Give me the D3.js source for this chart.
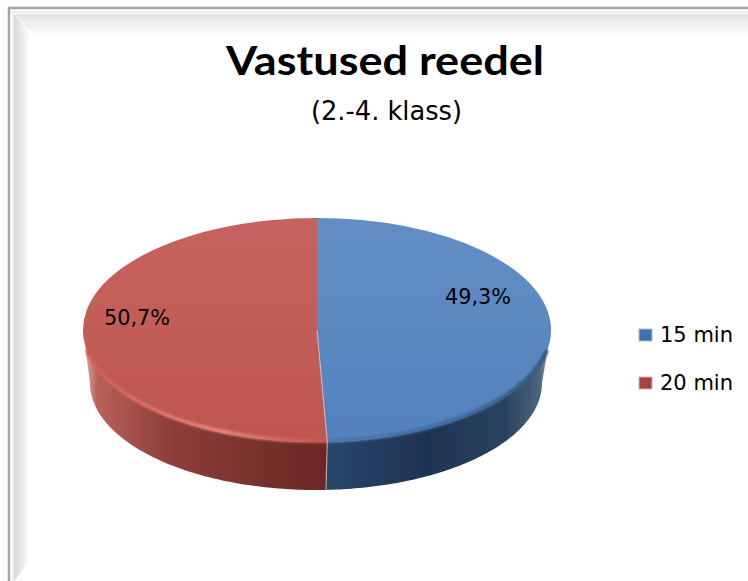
<!DOCTYPE html>
<html>
<head>
<meta charset="utf-8">
<script src="https://cdn.jsdelivr.net/npm/d3@7"></script>
<style>
  html, body { margin: 0; padding: 0; background: #fff; }
  svg { display: block; }
  text { font-family: "DejaVu Sans", sans-serif; fill: #000; }
  text.title { font-family: Lato, sans-serif; }
</style>
</head>
<body>
<svg id="chart" width="748" height="581"></svg>
<script>
const categories = ["15 min", "20 min"];
const values = [49.3, 50.7];
const valueLabels = ["49,3%", "50,7%"];
const topColors = ["#638ec5", "#c7635f"];
const bottomColors = ["#5282bd", "#bd5650"];

const svg = d3.select("#chart");
const defs = svg.append("defs");

function gradient(id, stops, x1, y1, x2, y2) {
  const g = defs.append("linearGradient").attr("id", id)
    .attr("x1", x1).attr("y1", y1).attr("x2", x2).attr("y2", y2);
  stops.forEach(s => g.append("stop").attr("offset", s[0]).attr("stop-color", s[1]));
}

gradient("frameTop", [[0, "#e2e2e2"], [1, "#ffffff"]], 0, 0, 0, 1);
gradient("frameLeft", [[0, "#d8d8d8"], [1, "#ffffff"]], 0, 0, 1, 0);
gradient("top0", [[0, topColors[0]], [1, bottomColors[0]]], 0, 0, 0, 1);
gradient("top1", [[0, topColors[1]], [1, bottomColors[1]]], 0, 0, 0, 1);
gradient("side0", [[0, "#28466b"], [0.45, "#1f3351"], [0.8, "#2b425f"], [0.95, "#4d6580"], [1, "#a3b0bd"]], 0, 0, 1, 0);
gradient("side1", [[0, "#dcb1ae"], [0.06, "#b9605a"], [0.35, "#8e3f3a"], [0.75, "#762f2c"], [1, "#6b2826"]], 0, 0, 1, 0);
gradient("rim0", [[0, "#4a76ad"], [0.6, "#3f6a9f"], [1, "#33567f"]], 0, 0, 1, 0);
gradient("rim1", [[0, "#cf5a55"], [0.55, "#e8837b"], [1, "#c9534e"]], 0, 0, 1, 0);

const soft = defs.append("filter").attr("id", "soft")
  .attr("x", "-5%").attr("y", "-5%").attr("width", "110%").attr("height", "110%");
soft.append("feGaussianBlur").attr("stdDeviation", 0.7);
const softer = defs.append("filter").attr("id", "softer")
  .attr("x", "-5%").attr("y", "-5%").attr("width", "110%").attr("height", "110%");
softer.append("feGaussianBlur").attr("stdDeviation", 1.3);

// frame of the pasted picture
const frame = svg.append("g");
frame.append("path").attr("d", "M14,14H748V36H710H34Z").attr("fill", "url(#frameTop)");
frame.append("path").attr("d", "M14,14L30,34V560L14,581Z").attr("fill", "url(#frameLeft)");
frame.append("path").attr("d", "M9,581V8H748").attr("fill", "none").attr("stroke", "#a6a6a6").attr("stroke-width", 2.5);
frame.append("path").attr("d", "M13,581V12H748").attr("fill", "none").attr("stroke", "#ececec").attr("stroke-width", 1.5);

// title
svg.append("text").attr("class", "title").attr("x", 385).attr("y", 75).attr("text-anchor", "middle")
  .attr("font-size", 40).attr("font-weight", 700).attr("textLength", 318).attr("lengthAdjust", "spacingAndGlyphs")
  .text("Vastused reedel");
svg.append("text").attr("x", 386.5).attr("y", 120).attr("text-anchor", "middle")
  .attr("font-size", 25.7).attr("fill", "#333")
  .text("(2.-4. klass)");

// pie
const cx = 317, cy = 330, rx = 234, ry = 112;
const baseCx = 316, baseCy = 383, baseRx = 226, baseRy = 107;

const pie = d3.pie().sort(null);
const arcs = pie(values);

const arc = d3.arc().innerRadius(0).outerRadius(rx);
const angleStep = Math.PI / 180;

const topPoint = a => [cx + rx * Math.sin(a), cy - ry * Math.cos(a)];
const basePoint = a => [baseCx + baseRx * Math.sin(a), baseCy - baseRy * Math.cos(a)];
const line = d3.line();

// only the front of the rim is visible, pad keeps the ends from poking out
function frontAngles(d, pad) {
  const a0 = Math.max(d.startAngle, Math.PI / 2 + pad);
  const a1 = Math.min(d.endAngle, Math.PI * 1.5 - pad);
  return d3.range(a0, a1, angleStep).concat([a1]);
}

const pieG = svg.append("g").attr("filter", "url(#soft)");

pieG.selectAll("path.side").data(arcs).join("path")
  .attr("class", "side")
  .attr("d", d => {
    const as = frontAngles(d, 0);
    return line(as.map(topPoint).concat(as.slice().reverse().map(basePoint))) + "Z";
  })
  .attr("fill", (d, i) => `url(#side${i})`);

pieG.selectAll("path.face").data(arcs).join("path")
  .attr("class", "face")
  .attr("transform", `translate(${cx},${cy}) scale(1,${ry / rx})`)
  .attr("d", arc)
  .attr("fill", (d, i) => `url(#top${i})`);

// bright bevel round the front edge
pieG.selectAll("path.rim").data(arcs).join("path")
  .attr("class", "rim")
  .attr("d", d => line(frontAngles(d, 0.2).map(a => {
    const p = topPoint(a);
    return [p[0], p[1] - 1];
  })))
  .attr("fill", "none")
  .attr("stroke", (d, i) => `url(#rim${i})`)
  .attr("stroke-width", 4)
  .attr("stroke-linecap", "round")
  .attr("filter", "url(#softer)");

// pale seam between the slices, only in the front half
const seam = arcs[0].endAngle;
pieG.append("path")
  .attr("d", line([[cx, cy], topPoint(seam), basePoint(seam)]))
  .attr("fill", "none").attr("stroke", "#e6c4c2").attr("stroke-opacity", 0.65).attr("stroke-width", 1.2);

// value labels
const labelPos = [[478, 304], [137, 325]];
svg.selectAll("text.value").data(valueLabels).join("text")
  .attr("class", "value")
  .attr("x", (d, i) => labelPos[i][0])
  .attr("y", (d, i) => labelPos[i][1])
  .attr("text-anchor", "middle")
  .attr("font-size", 20.8)
  .attr("fill", "#141414")
  .text(d => d);

// legend
const legendY = d3.scalePoint().domain(categories).range([335, 383]);
const legend = svg.selectAll("g.legend").data(categories).join("g")
  .attr("class", "legend")
  .attr("transform", d => `translate(0,${legendY(d)})`);
legend.append("rect")
  .attr("x", 639).attr("y", -6).attr("width", 13).attr("height", 12)
  .attr("fill", (d, i) => i ? "#a8423f" : "#3f72ab")
  .attr("stroke", (d, i) => i ? "#d9b0ae" : "#a9c0da").attr("stroke-width", 1);
legend.append("text")
  .attr("x", 660).attr("y", 7)
  .attr("font-size", 21)
  .attr("fill", "#1c1c1c")
  .text(d => d);
</script>
</body>
</html>
